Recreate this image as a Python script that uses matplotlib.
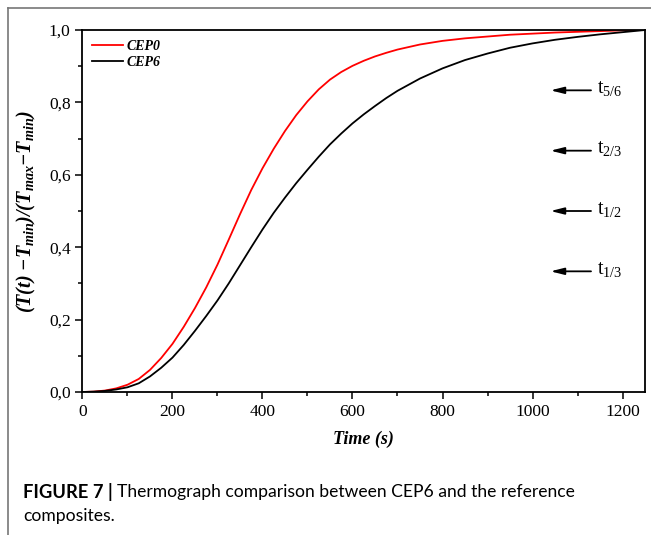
import matplotlib
matplotlib.use("Agg")
import matplotlib.pyplot as plt
from matplotlib.ticker import MultipleLocator, FuncFormatter
from matplotlib.lines import Line2D

plt.rcParams['font.family'] = ['Liberation Serif', 'DejaVu Serif']
plt.rcParams['mathtext.fontset'] = 'custom'
plt.rcParams['mathtext.rm'] = 'Liberation Serif'
plt.rcParams['mathtext.it'] = 'Liberation Serif:italic'
plt.rcParams['mathtext.bf'] = 'Liberation Serif:bold'
plt.rcParams['mathtext.bfit'] = 'Liberation Serif:bold:italic'

time_s = [0, 25, 50, 75, 100, 125, 150, 175, 200, 225, 250, 275, 300, 325, 350,
          375, 400, 425, 450, 475, 500, 525, 550, 575, 600, 625, 650, 675, 700,
          750, 800, 850, 900, 950, 1000, 1050, 1100, 1150, 1200, 1250]
cep0 = [0, 0.001, 0.004, 0.010, 0.020, 0.036, 0.061, 0.094, 0.133, 0.180, 0.232,
        0.289, 0.352, 0.421, 0.491, 0.558, 0.618, 0.672, 0.721, 0.765, 0.803,
        0.836, 0.863, 0.884, 0.901, 0.915, 0.927, 0.937, 0.946,
        0.960, 0.970, 0.977, 0.982, 0.987, 0.990, 0.993, 0.995, 0.997, 0.999, 1.0]
cep6 = [0, 0.001, 0.003, 0.007, 0.013, 0.024, 0.043, 0.067, 0.095, 0.13, 0.169,
        0.21, 0.253, 0.30, 0.35, 0.40, 0.449, 0.495, 0.537, 0.577, 0.614,
        0.650, 0.684, 0.714, 0.742, 0.767, 0.790, 0.812, 0.832,
        0.866, 0.894, 0.917, 0.935, 0.951, 0.963, 0.973, 0.981, 0.988, 0.994, 1.0]
series_names = ["CEP0", "CEP6"]
marker_labels = ["5/6", "2/3", "1/2", "1/3"]
marker_levels = [5/6, 2/3, 1/2, 1/3]

fig = plt.figure(figsize=(6.51, 5.35), dpi=100)
ax = fig.add_axes([0.1267, 0.2673, 0.8641, 0.6766])

ax.plot(time_s, cep0, color='#ff0000', lw=1.3, label=series_names[0])
ax.plot(time_s, cep6, color='black', lw=1.3, label=series_names[1])

ax.set_xlim(0, 1250)
ax.set_ylim(0, 1.0)
ax.xaxis.set_major_locator(MultipleLocator(200))
ax.xaxis.set_minor_locator(MultipleLocator(100))
ax.yaxis.set_major_locator(MultipleLocator(0.2))
ax.yaxis.set_minor_locator(MultipleLocator(0.1))
ax.yaxis.set_major_formatter(FuncFormatter(lambda v, p: f"{v:.1f}".replace('.', ',')))
ax.tick_params(which='both', direction='out', top=False, right=False, width=1.1)
ax.tick_params(which='major', length=5, labelsize=12.5)
ax.tick_params(which='minor', length=3)
for s in ax.spines.values():
    s.set_linewidth(1.3)

ax.set_xlabel('Time (s)', fontsize=13, fontweight='bold', fontstyle='italic', labelpad=8)
ax.set_ylabel(r'$\mathbfit{(T(t)\ {-}T_{min})/(T_{max}{-}T_{min})}$', fontsize=14.5, labelpad=8)

leg = ax.legend(loc='upper left', frameon=False, handlelength=2.2, handletextpad=0.3,
                labelspacing=0.25, borderaxespad=0.3,
                prop={'family': 'Liberation Serif', 'weight': 'bold', 'style': 'italic', 'size': 10})

for lab, lev in zip(marker_labels, marker_levels):
    ax.annotate('', xy=(1040, lev), xytext=(1130, lev),
                arrowprops=dict(arrowstyle='-|>,head_length=0.8,head_width=0.2',
                                color='black', lw=1.3, shrinkA=0, shrinkB=0))
    ax.text(1143, lev + 0.005, 't$_{' + lab + '}$', fontsize=14.5, va='center', ha='left')

# outer frame lines
W, H = 651, 535
fig.add_artist(Line2D([8 / W, 1.0], [1 - 8 / H, 1 - 8 / H], color='#777777', lw=1.2,
                      transform=fig.transFigure))
fig.add_artist(Line2D([8 / W, 8 / W], [0.0, 1 - 8 / H], color='#777777', lw=1.2,
                      transform=fig.transFigure))

fig.text(23 / W, 1 - 492 / H, 'FIGURE 7 |', fontsize=13.2, fontweight='bold',
         family='Lato', va='center', ha='left')
fig.text(117 / W, 1 - 492 / H, 'Thermograph comparison between CEP6 and the reference',
         fontsize=12.6, family='Lato', va='center', ha='left')
fig.text(23 / W, 1 - 516 / H, 'composites.', fontsize=12.6, family='Lato',
         va='center', ha='left')

fig.savefig('out.png', dpi=100)
